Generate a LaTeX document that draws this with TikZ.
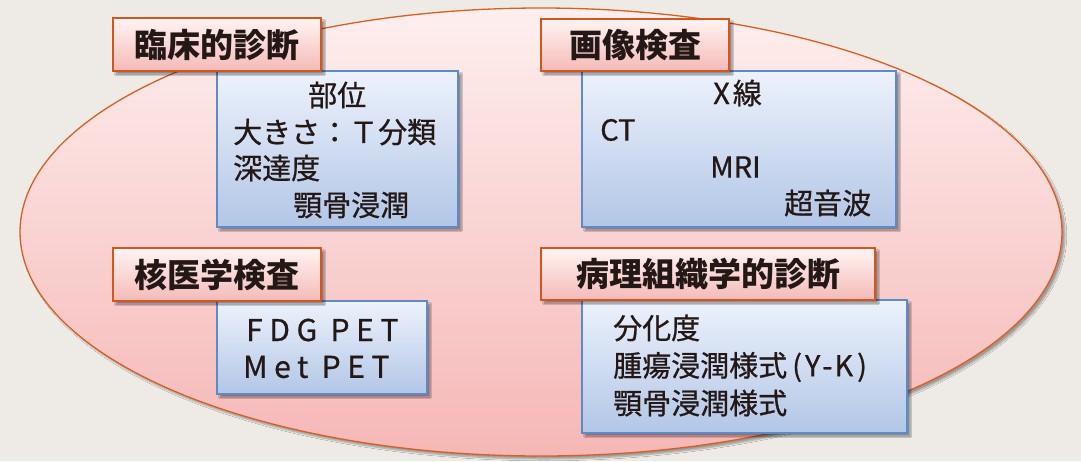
\documentclass[tikz,border=0pt]{standalone}
\usepackage{fontspec}
\newfontfamily\jp{Noto Sans CJK JP}
\usetikzlibrary{shadows.blur}
\definecolor{bg}{HTML}{EEEBE7}
\definecolor{ellTop}{HTML}{FDEFEE}
\definecolor{ellBot}{HTML}{F5B7B6}
\definecolor{ellLine}{HTML}{DA5E20}
\definecolor{ttlTop}{HTML}{FFF4F3}
\definecolor{ttlBot}{HTML}{F4BAB7}
\definecolor{ttlLine}{HTML}{D4561F}
\definecolor{bluTop}{HTML}{EDF2FC}
\definecolor{bluBot}{HTML}{B2C6E6}
\definecolor{bluLine}{HTML}{5B8BC8}
\definecolor{ink}{HTML}{231815}
\tikzset{
  shad/.style={blur shadow={shadow xshift=3pt, shadow yshift=-3pt, shadow blur steps=6, shadow opacity=45}},
  titlebox/.style={draw=ttlLine, line width=1.6pt, top color=ttlTop, bottom color=ttlBot, shad,
    inner sep=0pt, font=\jp\bfseries\fontsize{33}{36}\selectfont, text=ink},
  bluebox/.style={draw=bluLine, line width=1.6pt, top color=bluTop, bottom color=bluBot, shad, inner sep=0pt},
  txt/.style={anchor=west, inner sep=0pt, font=\jp\fontsize{29}{32}\selectfont\addfontfeature{FakeBold=0.7}, text=ink},
  pet/.style={txt, font=\jp\fontsize{30}{33}\selectfont\addfontfeature{LetterSpace=22,FakeBold=0.7}},
}
\begin{document}
\begin{tikzpicture}[x=1pt,y=-1pt]
\useasboundingbox (0,0) rectangle (1081,461);
\fill[bg] (0,0) rectangle (1081,461);
\shade[top color=ellTop, bottom color=ellBot, draw=ellLine, line width=1.3pt,
  blur shadow={shadow xshift=3pt, shadow yshift=-3pt, shadow blur steps=6, shadow opacity=35}]
  (541,232) ellipse [x radius=521pt, y radius=224pt];

% clinical
\node[bluebox, minimum width=241pt, minimum height=156pt] (b1) at (337.5,149) {};
\node[titlebox, minimum width=208pt, minimum height=53pt] (t1) at (217,44.5) {臨床的診断};
\node[txt] (b1a) at (308,95) {部位};
\node[txt] (b1b) at (233,132) {大きさ：Ｔ分類};
\node[txt] (b1c) at (233,168) {深達度};
\node[txt] (b1d) at (293,205) {顎骨浸潤};

% imaging
\node[bluebox, minimum width=314pt, minimum height=156pt] (b2) at (739,149) {};
\node[titlebox, minimum width=188pt, minimum height=52pt] (t2) at (635,45) {画像検査};
\node[txt] (b2a) at (713,93) {X\hspace{3pt}線};
\node[txt] (b2b) at (600,130) {CT};
\node[txt] (b2c) at (710,167) {MRI};
\node[txt] (b2d) at (784,203) {超音波};

% nuclear
\node[bluebox, minimum width=210pt, minimum height=93pt] (b3) at (322,347.5) {};
\node[titlebox, minimum width=208pt, minimum height=53pt] (t3) at (217,274.5) {核医学検査};
\node[pet] (b3a) at (246,330) {FDG PET};
\node[pet] (b3b) at (243,367) {Met PET};

% pathology
\node[bluebox, minimum width=325pt, minimum height=133pt] (b4) at (744.5,366.5) {};
\node[titlebox, minimum width=334pt, minimum height=52pt] (t4) at (708,274) {病理組織学的診断};
\node[txt] (b4a) at (613,328) {分化度};
\node[txt] (b4b) at (613,367) {腫瘍浸潤様式\hspace{5pt}(\hspace{3pt}Y\hspace{2pt}-\hspace{2pt}K\hspace{4pt})};
\node[txt] (b4c) at (613,403) {顎骨浸潤様式};
\end{tikzpicture}
\end{document}
